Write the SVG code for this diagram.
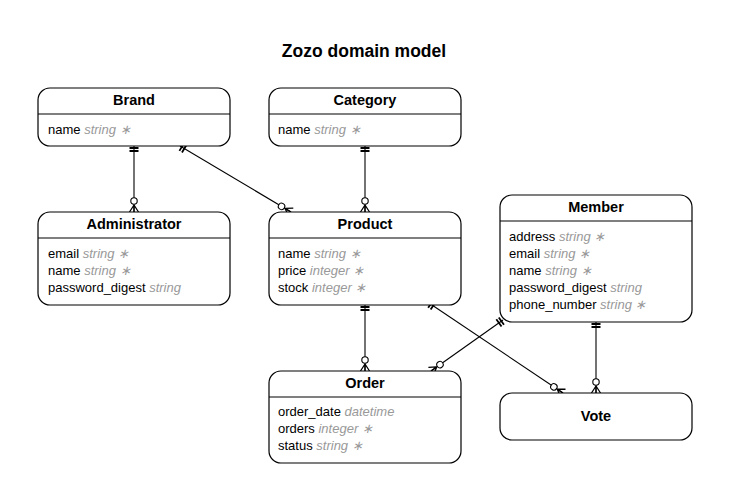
<svg xmlns="http://www.w3.org/2000/svg" width="730" height="502" viewBox="0 0 730 502">
<style>
text{font-family:"Liberation Sans",Arial,sans-serif;fill:#000}
.title{font-size:17.5px;font-weight:bold;text-anchor:middle}
.hd{font-size:14.5px;font-weight:bold;text-anchor:middle}
.at{font-size:13px}
.ty{fill:#999;font-style:italic}
.box{fill:#fff;stroke:#000;stroke-width:1.2}
.div{stroke:#000;stroke-width:1.2}
.conn{fill:none;stroke:#000;stroke-width:1.1}
</style>
<defs>
<marker id="one" markerUnits="userSpaceOnUse" orient="auto" refX="0" refY="0" markerWidth="20" markerHeight="20" overflow="visible">
<path d="M2,-4.5V4.5M5,-4.5V4.5" stroke="#000" stroke-width="1.8" fill="none"/>
</marker>
<marker id="many" markerUnits="userSpaceOnUse" orient="auto" refX="0" refY="0" markerWidth="20" markerHeight="20" overflow="visible">
<path d="M-7,0L0,-4.5M-7,0L0,0M-7,0L0,4.5" stroke="#000" stroke-width="1.3" fill="none"/>
<circle cx="-11" cy="0" r="3.2" fill="#fff" stroke="#000" stroke-width="1.1"/>
</marker>
</defs>
<rect width="730" height="502" fill="#fff"/>
<text class="title" x="364" y="57">Zozo domain model</text>

<g id="connectors">
<path class="conn" d="M134,146V212" marker-start="url(#one)" marker-end="url(#many)"/>
<path class="conn" d="M180,146L291,212" marker-start="url(#one)" marker-end="url(#many)"/>
<path class="conn" d="M365,146V212" marker-start="url(#one)" marker-end="url(#many)"/>
<path class="conn" d="M365,305V371" marker-start="url(#one)" marker-end="url(#many)"/>
<path class="conn" d="M429,303L563,393" marker-start="url(#one)" marker-end="url(#many)"/>
<path class="conn" d="M503,320L431,371" marker-start="url(#one)" marker-end="url(#many)"/>
<path class="conn" d="M596,322V393" marker-start="url(#one)" marker-end="url(#many)"/>
</g>

<g id="brand">
<rect class="box" x="38" y="88" width="192" height="58" rx="12"/>
<line class="div" x1="38" y1="114" x2="230" y2="114"/>
<text class="hd" x="134" y="105">Brand</text>
<text class="at" x="48" y="133.5">name <tspan class="ty">string ∗</tspan></text>
</g>

<g id="category">
<rect class="box" x="269" y="88" width="192" height="58" rx="12"/>
<line class="div" x1="269" y1="114" x2="461" y2="114"/>
<text class="hd" x="365" y="105">Category</text>
<text class="at" x="278" y="133.5">name <tspan class="ty">string ∗</tspan></text>
</g>

<g id="administrator">
<rect class="box" x="38" y="212" width="192" height="93" rx="12"/>
<line class="div" x1="38" y1="238" x2="230" y2="238"/>
<text class="hd" x="134" y="229">Administrator</text>
<text class="at" x="48" y="257.5">email <tspan class="ty">string ∗</tspan></text>
<text class="at" x="48" y="274.5">name <tspan class="ty">string ∗</tspan></text>
<text class="at" x="48" y="291.5">password_digest <tspan class="ty">string</tspan></text>
</g>

<g id="product">
<rect class="box" x="269" y="212" width="192" height="93" rx="12"/>
<line class="div" x1="269" y1="238" x2="461" y2="238"/>
<text class="hd" x="365" y="229">Product</text>
<text class="at" x="278" y="257.5">name <tspan class="ty">string ∗</tspan></text>
<text class="at" x="278" y="274.5">price <tspan class="ty">integer ∗</tspan></text>
<text class="at" x="278" y="291.5">stock <tspan class="ty">integer ∗</tspan></text>
</g>

<g id="member">
<rect class="box" x="500" y="195" width="192" height="127" rx="12"/>
<line class="div" x1="500" y1="221" x2="692" y2="221"/>
<text class="hd" x="596" y="212">Member</text>
<text class="at" x="509" y="240.5">address <tspan class="ty">string ∗</tspan></text>
<text class="at" x="509" y="257.5">email <tspan class="ty">string ∗</tspan></text>
<text class="at" x="509" y="274.5">name <tspan class="ty">string ∗</tspan></text>
<text class="at" x="509" y="291.5">password_digest <tspan class="ty">string</tspan></text>
<text class="at" x="509" y="308.5">phone_number <tspan class="ty">string ∗</tspan></text>
</g>

<g id="order">
<rect class="box" x="269" y="371" width="192" height="92" rx="12"/>
<line class="div" x1="269" y1="397" x2="461" y2="397"/>
<text class="hd" x="365" y="388">Order</text>
<text class="at" x="278" y="416">order_date <tspan class="ty">datetime</tspan></text>
<text class="at" x="278" y="433">orders <tspan class="ty">integer ∗</tspan></text>
<text class="at" x="278" y="450">status <tspan class="ty">string ∗</tspan></text>
</g>

<g id="vote">
<rect class="box" x="500" y="393" width="192" height="47" rx="12"/>
<text class="hd" x="596" y="421">Vote</text>
</g>
</svg>
